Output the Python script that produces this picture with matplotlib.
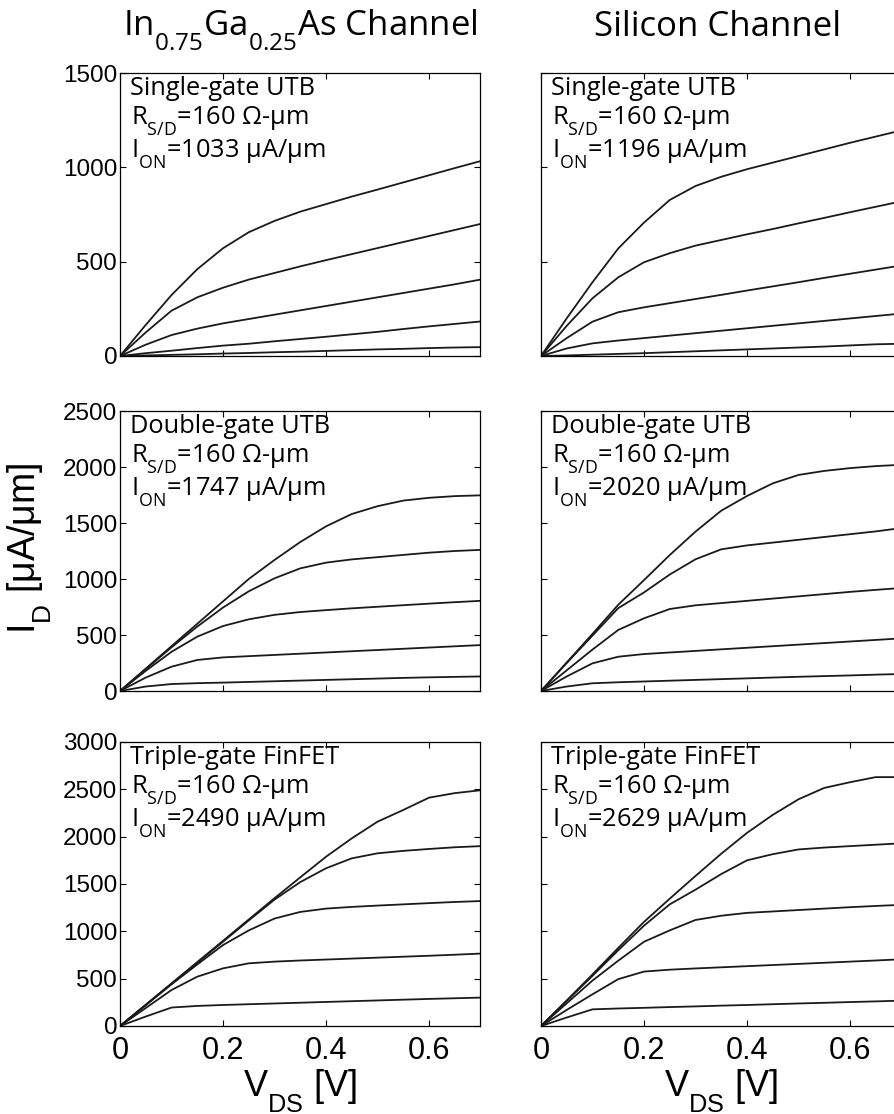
import numpy as np
import matplotlib.pyplot as plt
import matplotlib._mathtext as mathtext_internals

plt.rcParams['font.family'] = ['Liberation Sans', 'DejaVu Sans']
# MATLAB-style low subscripts
mathtext_internals.FontConstantsBase.sub1 = 0.8

# drain voltage grid [V]
vds = [0.0, 0.05, 0.1, 0.15, 0.2, 0.25, 0.3, 0.35, 0.4, 0.45, 0.5, 0.55, 0.6, 0.65, 0.7]

# I_D [uA/um], five gate voltages per panel, top curve first
ingaas_sg = [
    [0, 165, 323, 460, 571, 656, 716, 765, 805, 845, 882, 920, 958, 996, 1033],
    [0, 125, 240, 311, 362, 405, 440, 475, 508, 540, 572, 604, 636, 668, 700],
    [0, 60, 111, 145, 173, 196, 219, 242, 265, 288, 311, 334, 357, 380, 405],
    [0, 15, 28, 42, 55, 65, 78, 90, 102, 115, 128, 143, 157, 170, 183],
    [0, 3, 6, 9, 13, 16, 20, 23, 27, 31, 35, 38, 42, 45, 47],
]
si_sg = [
    [0, 200, 391, 570, 707, 827, 901, 950, 990, 1025, 1060, 1095, 1130, 1163, 1196],
    [0, 160, 306, 417, 497, 545, 585, 615, 645, 673, 703, 732, 762, 791, 820],
    [0, 95, 182, 232, 258, 280, 302, 324, 347, 369, 391, 414, 436, 458, 480],
    [0, 40, 67, 82, 95, 108, 121, 134, 147, 160, 173, 186, 199, 212, 225],
    [0, 3, 7, 11, 15, 20, 25, 30, 35, 40, 45, 50, 56, 62, 65],
]
ingaas_dg = [
    [0, 200, 400, 600, 800, 1000, 1170, 1330, 1470, 1580, 1650, 1700, 1725, 1740, 1747],
    [0, 195, 390, 575, 745, 890, 1006, 1095, 1146, 1175, 1195, 1215, 1235, 1250, 1260],
    [0, 180, 350, 485, 580, 640, 680, 705, 722, 738, 752, 766, 780, 793, 805],
    [0, 120, 217, 277, 300, 311, 322, 333, 344, 355, 366, 377, 388, 399, 410],
    [0, 40, 62, 70, 75, 81, 87, 93, 99, 105, 111, 117, 122, 126, 130],
]
si_dg = [
    [0, 255, 510, 770, 990, 1214, 1423, 1610, 1741, 1854, 1929, 1965, 1990, 2008, 2020],
    [0, 250, 495, 740, 880, 1040, 1176, 1265, 1300, 1325, 1350, 1375, 1400, 1425, 1455],
    [0, 185, 370, 545, 649, 732, 765, 785, 805, 825, 845, 865, 885, 903, 920],
    [0, 130, 247, 306, 330, 344, 358, 372, 386, 400, 414, 428, 442, 456, 470],
    [0, 40, 69, 78, 85, 92, 99, 106, 113, 120, 127, 133, 139, 146, 152],
]
ingaas_tg = [
    [0, 225, 450, 675, 900, 1125, 1350, 1570, 1788, 1982, 2158, 2282, 2412, 2460, 2490],
    [0, 222, 445, 668, 890, 1115, 1335, 1520, 1666, 1771, 1824, 1850, 1870, 1888, 1900],
    [0, 220, 440, 650, 855, 1010, 1135, 1205, 1240, 1258, 1272, 1285, 1298, 1310, 1320],
    [0, 190, 380, 521, 609, 662, 680, 692, 702, 712, 722, 732, 742, 753, 765],
    [0, 100, 195, 212, 222, 230, 238, 246, 254, 262, 270, 278, 286, 293, 300],
]
si_tg = [
    [0, 270, 545, 825, 1100, 1345, 1585, 1820, 2040, 2230, 2395, 2515, 2575, 2629, 2629],
    [0, 265, 530, 800, 1060, 1285, 1440, 1605, 1750, 1815, 1865, 1885, 1900, 1915, 1930],
    [0, 240, 480, 690, 890, 1010, 1120, 1165, 1195, 1210, 1225, 1240, 1255, 1268, 1280],
    [0, 170, 335, 495, 575, 595, 608, 620, 632, 644, 656, 668, 680, 692, 705],
    [0, 90, 176, 185, 192, 200, 207, 215, 222, 230, 238, 245, 253, 260, 268],
]

device_names = ['Single-gate UTB', 'Double-gate UTB', 'Triple-gate FinFET']
ion_ingaas = [1033, 1747, 2490]
ion_si = [1196, 2020, 2629]
ymax = [1500, 2500, 3000]
xticks = [0, 0.2, 0.4, 0.6]

panels = [[ingaas_sg, si_sg], [ingaas_dg, si_dg], [ingaas_tg, si_tg]]
ions = [ion_ingaas, ion_si]

fig = plt.figure(figsize=(8.95, 11.14), dpi=100)

W, H = 895.0, 1114.0
col_left = [120, 541]
col_width = 360.5
row_top = [73, 411, 742]
row_bottom = [356, 691, 1026]

label_font = ['Open Sans', 'DejaVu Sans']

for r in range(3):
    for c in range(2):
        ax = fig.add_axes([col_left[c] / W, 1 - row_bottom[r] / H,
                           col_width / W, (row_bottom[r] - row_top[r]) / H])
        for curve in panels[r][c]:
            ax.plot(vds, curve, color='#1a1a1a', lw=1.3)
        ax.set_xlim(0, 0.7)
        ax.set_ylim(0, ymax[r])
        ax.set_xticks(xticks)
        ax.set_yticks(np.arange(0, ymax[r] + 1, 500))
        ax.tick_params(direction='in', top=True, right=True, length=4, width=0.8)
        ax.tick_params(axis='y', labelsize=17.5, pad=2)
        ax.tick_params(axis='x', labelsize=22, pad=7)
        for s in ax.spines.values():
            s.set_linewidth(0.9)
        if c == 1:
            ax.set_yticklabels([])
        else:
            ax.set_yticklabels(['%d' % t for t in np.arange(0, ymax[r] + 1, 500)])
        if r < 2:
            ax.set_xticklabels([])
        else:
            ax.set_xticklabels(['0', '0.2', '0.4', '0.6'])
            ax.set_xlabel(r'$\mathregular{V_{DS}}$ [V]', fontsize=26, labelpad=1)

        # device annotation
        ax.annotate(device_names[r], xy=(0, 1), xycoords='axes fraction',
                    xytext=(7, -16), textcoords='offset points',
                    fontsize=18.3, family=label_font, va='baseline', ha='left')
        ax.annotate(r'$\mathregular{R_{S/D}}$=160 Ω-μm', xy=(0, 1), xycoords='axes fraction',
                    xytext=(8, -37.5), textcoords='offset points',
                    fontsize=18.3, family=label_font, va='baseline', ha='left')
        ax.annotate(r'$\mathregular{I_{ON}}$=%d μA/μm' % ions[c][r], xy=(0, 1),
                    xycoords='axes fraction',
                    xytext=(8, -61), textcoords='offset points',
                    fontsize=18.3, family=label_font, va='baseline', ha='left')

fig.text(300 / W, 1 - 36 / H, r'$\mathregular{In_{0.75}Ga_{0.25}As}$ Channel',
         fontsize=25, family=label_font, ha='center', va='baseline')
fig.text(718 / W, 1 - 36 / H, 'Silicon Channel',
         fontsize=25, family=label_font, ha='center', va='baseline')
fig.text(30 / W, 1 - 548 / H, r'$\mathregular{I_D}$ [μA/μm]',
         fontsize=27, rotation=90, ha='center', va='center')

fig.savefig('out.png', dpi=100)
